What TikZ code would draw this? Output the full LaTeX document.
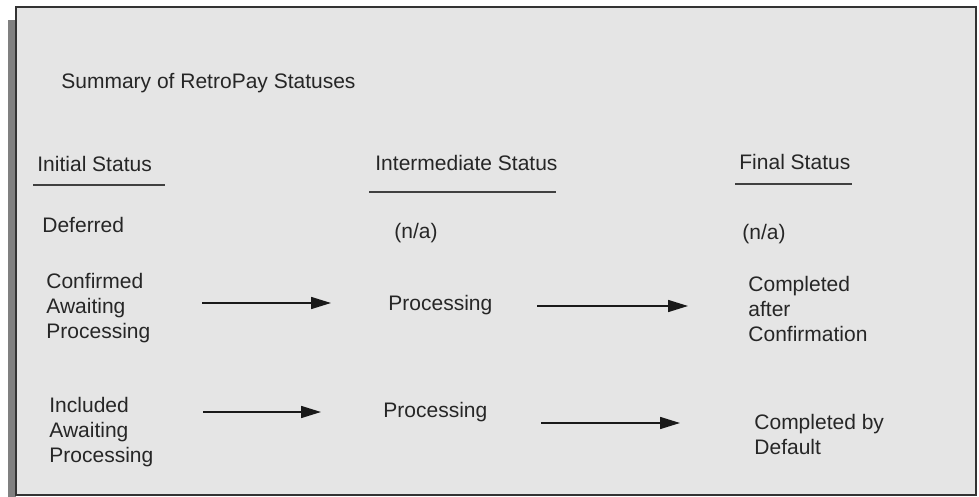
\documentclass[tikz,border=0pt]{standalone}
\usepackage{fontspec}
\setmainfont{Liberation Sans}
\usetikzlibrary{arrows.meta}

\begin{document}
\begin{tikzpicture}[x=0.5pt,y=-0.5pt,
  font=\fontsize{10.5}{12.3}\selectfont,
  lbl/.style={anchor=base west,inner sep=0pt,align=left,text=black!85},
  uline/.style={draw=black!75,line width=0.9pt},
  arr/.style={draw=black!90,line width=0.8pt,-{Triangle[length=10pt,width=6pt]}}]

\useasboundingbox (0,0) rectangle (979,497);

% 影と枠
\fill[gray] (8,20) rectangle (16,497);
\draw[fill=gray!20,draw=black!80,line width=0.8pt] (16,7) rectangle (976,495);

% タイトル
\node[lbl] (title) at (61,89) {Summary of RetroPay Statuses};

% 見出し
\node[lbl] (hinit) at (37,172) {Initial Status};
\node[lbl] (hmid) at (375,171) {Intermediate Status};
\node[lbl] (hfin) at (739,170) {Final Status};

% 下線
\draw[uline] (33,185)--(165,185);
\draw[uline] (369,192)--(556,192);
\draw[uline] (735,184)--(852,184);

% Deferred 行
\node[lbl] (deferred) at (42,233) {Deferred};
\node[lbl] (namid) at (394,239) {(n/a)};
\node[lbl] (nafin) at (742,240) {(n/a)};

% Confirmed 行 (base = 最終行)
\node[lbl] (confirmed) at (46,338) {Confirmed\\Awaiting\\Processing};
\node[lbl] (proc1) at (388,310) {Processing};
\node[lbl] (compconf) at (748,341) {Completed\\after\\Confirmation};

% Included 行
\node[lbl] (included) at (49,462) {Included\\Awaiting\\Processing};
\node[lbl] (proc2) at (383,417) {Processing};
\node[lbl] (compdef) at (754,454) {Completed by\\Default};

% 矢印
\coordinate (a1s) at (202,303);
\coordinate (a1e) at (331,303);
\coordinate (a2s) at (537,306);
\coordinate (a2e) at (688,306);
\coordinate (a3s) at (203,412);
\coordinate (a3e) at (321,412);
\coordinate (a4s) at (541,423);
\coordinate (a4e) at (680,423);

\draw[arr] (a1s)--(a1e);
\draw[arr] (a2s)--(a2e);
\draw[arr] (a3s)--(a3e);
\draw[arr] (a4s)--(a4e);

\end{tikzpicture}
\end{document}
